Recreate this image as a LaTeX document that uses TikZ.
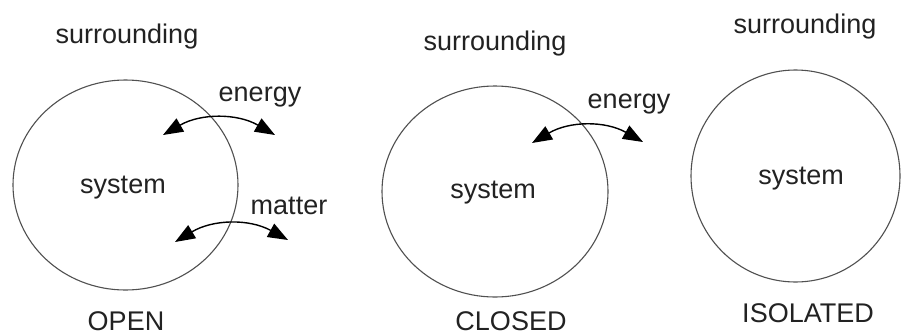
\documentclass[tikz,border=0pt]{standalone}
\usepackage{fontspec}
\setmainfont{Liberation Sans}
\usetikzlibrary{shapes.geometric,arrows.meta}
\definecolor{txt}{HTML}{222222}
\definecolor{ring}{HTML}{505050}
\tikzset{
  lbl/.style={inner sep=0pt, text=txt, font=\fontsize{27}{32}\selectfont},
  sysring/.style={ellipse, draw=ring, line width=1.1pt, inner sep=0pt},
  dblarrow/.style={line width=1.4pt, black, {Triangle[length=20pt,width=15pt]}-{Triangle[length=20pt,width=15pt]}}
}
\begin{document}
\begin{tikzpicture}[x=1pt,y=-1pt]
\useasboundingbox[fill=white] (0,0) rectangle (904,335);
% OPEN
\node[sysring, minimum width=225pt, minimum height=210pt] (c1) at (125.5,185) {};
\node[lbl] (s1) at (127,36.5) {surrounding};
\node[lbl] (y1) at (123,188) {system};
\node[lbl] (en1) at (260,97) {energy};
\node[lbl] (m1) at (289,206) {matter};
\node[lbl] (o1) at (126,321) {OPEN};
\coordinate (e1a) at (163,135);
\coordinate (e1b) at (275,135);
\coordinate (m1a) at (175,242);
\coordinate (m1b) at (288,240);
\draw[dblarrow] (e1a) to[bend left=30] (e1b);
\draw[dblarrow] (m1a) to[bend left=30] (m1b);
% CLOSED
\node[sysring, minimum width=226pt, minimum height=211pt] (c2) at (495,191.5) {};
\node[lbl] (s2) at (495,43.5) {surrounding};
\node[lbl] (y2) at (493,193) {system};
\node[lbl] (en2) at (629,104) {energy};
\node[lbl] (o2) at (511,321) {CLOSED};
\coordinate (e2a) at (532,143);
\coordinate (e2b) at (643,142);
\draw[dblarrow] (e2a) to[bend left=30] (e2b);
% ISOLATED
\node[sysring, minimum width=209pt, minimum height=212pt] (c3) at (795.5,176) {};
\node[lbl] (s3) at (805,26.5) {surrounding};
\node[lbl] (y3) at (801,179) {system};
\node[lbl] (o3) at (808,313) {ISOLATED};
\end{tikzpicture}
\end{document}
